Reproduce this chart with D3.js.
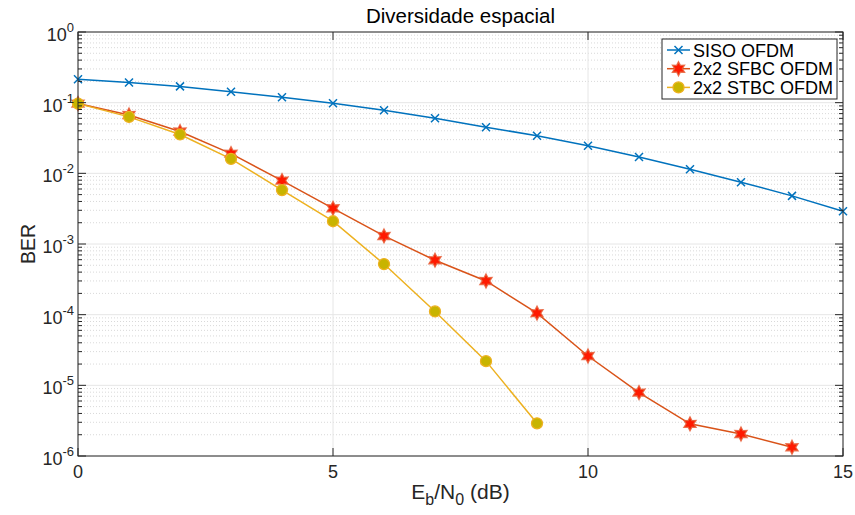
<!DOCTYPE html>
<html>
<head>
<meta charset="utf-8">
<script src="https://cdn.jsdelivr.net/npm/d3@7"></script>
<style>
  body { margin: 0; background: #fff; }
  svg { font-family: "Liberation Sans", Arial, sans-serif; }
</style>
</head>
<body>
<svg id="chart" width="855" height="515"></svg>
<script>
// Eb/N0 in dB
const ebn0 = [0, 1, 2, 3, 4, 5, 6, 7, 8, 9, 10, 11, 12, 13, 14, 15];

// BER values
const berSiso = [0.215, 0.193, 0.170, 0.143, 0.119, 0.098, 0.078, 0.060, 0.045, 0.034,
  0.0245, 0.0170, 0.0114, 0.0075, 0.0048, 0.0029];
const berSfbc = [0.097, 0.067, 0.039, 0.019, 0.0079, 0.0032, 0.0013, 0.00059, 0.0003, 0.000105,
  2.6e-5, 7.9e-6, 2.85e-6, 2.05e-6, 1.33e-6];
const berStbc = [0.097, 0.063, 0.0355, 0.016, 0.0058, 0.0021, 0.00052, 0.000111, 2.2e-5, 2.9e-6];

const xTicks = [0, 5, 10, 15];
const yDecades = [-6, -5, -4, -3, -2, -1, 0];

const series = [
  { name: "SISO OFDM", ber: berSiso, color: "#0072BD", marker: "x" },
  { name: "2x2 SFBC OFDM", ber: berSfbc, color: "#D95319", marker: "hexagram" },
  { name: "2x2 STBC OFDM", ber: berStbc, color: "#EDB120", marker: "circle" }
];

const svg = d3.select("#chart");
const pLeft = 78, pRight = 843, pTop = 32, pBottom = 456;

const x = d3.scaleLinear().domain([0, 15]).range([pLeft, pRight]);
const y = d3.scaleLog().domain([1e-6, 1]).range([pBottom, pTop]);

const axisColor = "#262626";

// grid
const grid = svg.append("g");
const minorVals = [];
yDecades.slice(0, -1).forEach((e) => {
  for (let m = 2; m <= 9; m++) minorVals.push(m * Math.pow(10, e));
});
grid.selectAll("line.ymin").data(minorVals).enter().append("line")
  .attr("x1", pLeft).attr("x2", pRight)
  .attr("y1", (d) => y(d)).attr("y2", (d) => y(d))
  .attr("stroke", "#cfcfcf").attr("stroke-width", 0.8)
  .attr("stroke-dasharray", "1,2");
grid.selectAll("line.ymaj").data(yDecades).enter().append("line")
  .attr("x1", pLeft).attr("x2", pRight)
  .attr("y1", (d) => y(Math.pow(10, d))).attr("y2", (d) => y(Math.pow(10, d)))
  .attr("stroke", "#e6e6e6").attr("stroke-width", 1);
grid.selectAll("line.xmaj").data(xTicks).enter().append("line")
  .attr("y1", pTop).attr("y2", pBottom)
  .attr("x1", (d) => x(d)).attr("x2", (d) => x(d))
  .attr("stroke", "#e6e6e6").attr("stroke-width", 1);

// marker shapes
function hexagramPath(ro, ri) {
  const pts = [];
  for (let i = 0; i < 12; i++) {
    const a = -Math.PI / 2 + i * Math.PI / 6;
    const r = i % 2 === 0 ? ro : ri;
    pts.push([r * Math.cos(a), r * Math.sin(a)]);
  }
  return "M" + pts.map((p) => p.join(",")).join("L") + "Z";
}

const line = d3.line().x((d, i) => x(ebn0[i])).y((d) => y(d));

const plot = svg.append("g");
series.forEach((s) => {
  plot.append("path")
    .attr("d", line(s.ber))
    .attr("fill", "none")
    .attr("stroke", s.color)
    .attr("stroke-width", 1.5);
});

function drawMarker(g, type, color) {
  if (type === "x") {
    g.append("path").attr("d", "M-4,-4L4,4M-4,4L4,-4")
      .attr("stroke", color).attr("stroke-width", 1.5).attr("fill", "none");
  } else if (type === "hexagram") {
    g.append("path").attr("d", hexagramPath(7, 3.8))
      .attr("fill", "#ff1a00").attr("stroke", "#e8603a").attr("stroke-width", 1.3)
      .attr("stroke-opacity", 0.85);
  } else {
    g.append("circle").attr("r", 5.5)
      .attr("fill", "#c8b400").attr("stroke", "#EDB120").attr("stroke-width", 1.3);
  }
}

series.forEach((s) => {
  s.ber.forEach((v, i) => {
    const g = plot.append("g").attr("transform", `translate(${x(ebn0[i])},${y(v)})`);
    drawMarker(g, s.marker, s.color);
  });
});

// axes box and ticks
const ax = svg.append("g");
ax.append("rect").attr("x", pLeft).attr("y", pTop)
  .attr("width", pRight - pLeft).attr("height", pBottom - pTop)
  .attr("fill", "none").attr("stroke", axisColor).attr("stroke-width", 1);

// y ticks (major + minor) on both sides
yDecades.forEach((e) => {
  const yy = y(Math.pow(10, e));
  ax.append("line").attr("x1", pLeft).attr("x2", pLeft + 8).attr("y1", yy).attr("y2", yy)
    .attr("stroke", axisColor);
  ax.append("line").attr("x1", pRight).attr("x2", pRight - 8).attr("y1", yy).attr("y2", yy)
    .attr("stroke", axisColor);
  const t = ax.append("text").attr("x", pLeft - 4).attr("y", yy + 9)
    .attr("text-anchor", "end").attr("fill", axisColor).attr("font-size", 18);
  t.append("tspan").text("10");
  t.append("tspan").attr("dy", -9).attr("font-size", 13).text(e);
});
minorVals.forEach((v) => {
  const yy = y(v);
  ax.append("line").attr("x1", pLeft).attr("x2", pLeft + 4).attr("y1", yy).attr("y2", yy)
    .attr("stroke", axisColor);
  ax.append("line").attr("x1", pRight).attr("x2", pRight - 4).attr("y1", yy).attr("y2", yy)
    .attr("stroke", axisColor);
});

// x ticks
xTicks.forEach((t) => {
  const xx = x(t);
  ax.append("line").attr("x1", xx).attr("x2", xx).attr("y1", pBottom).attr("y2", pBottom - 8)
    .attr("stroke", axisColor);
  ax.append("line").attr("x1", xx).attr("x2", xx).attr("y1", pTop).attr("y2", pTop + 8)
    .attr("stroke", axisColor);
  ax.append("text").attr("x", xx).attr("y", pBottom + 22)
    .attr("text-anchor", "middle").attr("fill", axisColor).attr("font-size", 18)
    .text(t);
});

// title and labels
svg.append("text").attr("x", (pLeft + pRight) / 2).attr("y", 23)
  .attr("text-anchor", "middle").attr("fill", "#000").attr("font-size", 20.5)
  .text("Diversidade espacial");

svg.append("text").attr("transform", `translate(35,${(pTop + pBottom) / 2}) rotate(-90)`)
  .attr("text-anchor", "middle").attr("fill", axisColor).attr("font-size", 19.5)
  .text("BER");

const xl = svg.append("text").attr("x", (pLeft + pRight) / 2).attr("y", 499)
  .attr("text-anchor", "middle").attr("fill", axisColor).attr("font-size", 21);
xl.append("tspan").text("E");
xl.append("tspan").attr("dy", 6).attr("font-size", 16).text("b");
xl.append("tspan").attr("dy", -6).text("/N");
xl.append("tspan").attr("dy", 6).attr("font-size", 16).text("0");
xl.append("tspan").attr("dy", -6).text(" (dB)");

// legend
const lg = svg.append("g").attr("transform", "translate(662,39)");
lg.append("rect").attr("width", 175).attr("height", 60)
  .attr("fill", "#fff").attr("stroke", axisColor).attr("stroke-width", 1);
series.forEach((s, i) => {
  const yy = 11 + i * 18.7;
  lg.append("line").attr("x1", 5).attr("x2", 28).attr("y1", yy).attr("y2", yy)
    .attr("stroke", s.color).attr("stroke-width", 1.5);
  const g = lg.append("g").attr("transform", `translate(16.5,${yy})`);
  drawMarker(g, s.marker, s.color);
  lg.append("text").attr("x", 31).attr("y", yy + 6.5)
    .attr("fill", "#000").attr("font-size", 18).text(s.name);
});
</script>
</body>
</html>
